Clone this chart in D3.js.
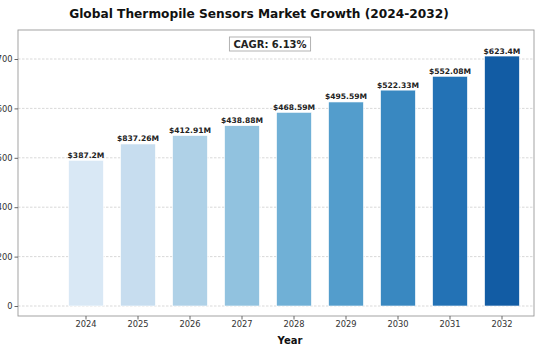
<!DOCTYPE html>
<html>
<head>
<meta charset="utf-8">
<script src="https://cdn.jsdelivr.net/npm/d3@7"></script>
<style>
  html, body { margin: 0; padding: 0; background: #fff; }
  svg { display: block; font-family: "DejaVu Sans", sans-serif; }
</style>
</head>
<body>
<svg id="chart" width="540" height="360"></svg>
<script>
const years = ["2024", "2025", "2026", "2027", "2028", "2029", "2030", "2031", "2032"];
const barValues = [495, 528, 545, 565, 592, 613, 637, 665, 706];
const barLabels = ["$387.2M", "$837.26M", "$412.91M", "$438.88M", "$468.59M", "$495.59M", "$522.33M", "$552.08M", "$623.4M"];
const yTicks = [0, 200, 400, 500, 600, 700];
const titleText = "Global Thermopile Sensors Market Growth (2024-2032)";
const cagrText = "CAGR: 6.13%";
const xTitle = "Year";

const svg = d3.select("#chart");
const frame = { left: 18, right: 534, top: 30, bottom: 316 };
const y0 = 306, y1 = 59;

const y = d3.scaleLinear()
  .domain(yTicks)
  .range(yTicks.map((d, i) => y0 - i * (y0 - y1) / (yTicks.length - 1)));

const x = d3.scaleBand()
  .domain(years)
  .range([60, 528])
  .paddingInner(0.33)
  .paddingOuter(0.165);

const color = i => d3.interpolateBlues(0.15 + 0.68 * i / (years.length - 1));

// grid
svg.append("g").selectAll("line").data(yTicks).join("line")
  .attr("x1", frame.left).attr("x2", frame.right)
  .attr("y1", d => y(d)).attr("y2", d => y(d))
  .attr("stroke", "#c8c8c8").attr("stroke-width", 0.7)
  .attr("stroke-dasharray", "2.5,1.5");

// bars
svg.append("g").selectAll("rect").data(barValues).join("rect")
  .attr("x", (d, i) => x(years[i]))
  .attr("width", x.bandwidth())
  .attr("y", d => y(d))
  .attr("height", d => y(0) - y(d))
  .attr("fill", (d, i) => color(i))
  .attr("stroke", "#fff").attr("stroke-width", 0.6);

// bar labels
svg.append("g").selectAll("text").data(barValues).join("text")
  .attr("x", (d, i) => x(years[i]) + x.bandwidth() / 2)
  .attr("y", d => y(d) - 2.5)
  .attr("text-anchor", "middle")
  .attr("font-size", 7.6).attr("font-weight", "bold").attr("fill", "#222")
  .text((d, i) => barLabels[i]);

// frame
svg.append("rect")
  .attr("x", frame.left).attr("y", frame.top)
  .attr("width", frame.right - frame.left).attr("height", frame.bottom - frame.top)
  .attr("fill", "none").attr("stroke", "#999").attr("stroke-width", 0.9);

// y axis
const yAxis = d3.axisLeft(y).tickValues(yTicks).tickSize(3.5).tickPadding(2).tickFormat(d3.format("d"));
const gy = svg.append("g").attr("transform", `translate(${frame.left},0)`).call(yAxis);
gy.select(".domain").remove();
gy.selectAll(".tick line").attr("stroke", "#666");
gy.selectAll(".tick text").attr("font-size", 8.3).attr("fill", "#333").attr("font-family", "DejaVu Sans");

// x axis
const xAxis = d3.axisBottom(x).tickSize(3.5).tickPadding(2);
const gx = svg.append("g").attr("transform", `translate(0,${frame.bottom})`).call(xAxis);
gx.select(".domain").remove();
gx.selectAll(".tick line").attr("stroke", "#666");
gx.selectAll(".tick text").attr("font-size", 8.3).attr("fill", "#333").attr("font-family", "DejaVu Sans");

// x title
svg.append("text").attr("x", 290).attr("y", 344)
  .attr("text-anchor", "middle").attr("font-size", 10).attr("font-weight", "bold")
  .attr("fill", "#111").text(xTitle);

// title
svg.append("text").attr("x", 259).attr("y", 18)
  .attr("text-anchor", "middle").attr("font-size", 12.2).attr("font-weight", "bold")
  .attr("fill", "#111").text(titleText);

// CAGR box
const cg = svg.append("g");
const ct = cg.append("text").attr("x", 270).attr("y", 48)
  .attr("text-anchor", "middle").attr("font-size", 10).attr("font-weight", "bold")
  .attr("fill", "#222").text(cagrText);
const bb = ct.node().getBBox();
cg.insert("rect", "text")
  .attr("x", bb.x - 4).attr("y", bb.y - 2)
  .attr("width", bb.width + 8).attr("height", bb.height + 3)
  .attr("fill", "#fff").attr("stroke", "#aaa").attr("stroke-width", 0.9);
</script>
</body>
</html>
